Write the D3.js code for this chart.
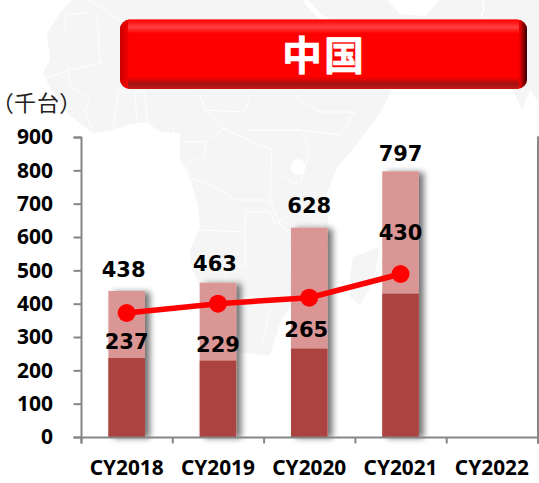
<!DOCTYPE html>
<html><head><meta charset="utf-8">
<script src="https://cdn.jsdelivr.net/npm/d3@7/dist/d3.min.js"></script>
<style>html,body{margin:0;padding:0;background:#fff;overflow:hidden}svg{display:block}</style>
</head><body><svg id="c" width="539" height="483"></svg>
<script>
const categories = ["CY2018","CY2019","CY2020","CY2021","CY2022"];
const totalValues = [438,463,628,797,null];
const lowerValues = [237,229,265,430,null];
const lineValues = [372,400,418,489,null];
const yTicks = [0,100,200,300,400,500,600,700,800,900];
const title = "中国";
const unitLabel = "（千台）";
// label nudges [dx, dy from bar edge], layout only
const totalNudge = [[-3,-14],[-3,-12],[0,-15],[0,-10]];
const lowerNudge = [[0,-9],[0,-9],[-3,-12],[0,-54]];

const svg = d3.select("#c");
const x = d3.scaleBand().domain(categories).range([81,537.5]).paddingInner(0.6).paddingOuter(0.3);
const y = d3.scaleLinear().domain([0,900]).range([437,137]);
const defs = svg.append("defs");

// backdrop map
const land = [
 [[73,0],[62,10],[47,33],[50,60],[43,73],[50,88],[67,113],[92,133],[113,130],[130,124],[147,122],[160,132],[180,133],[180,160],[190,178],[198,207],[200,228],[190,250],[190,262],[205,300],[222,340],[240,353],[270,355],[280,323],[295,300],[325,262],[329,235],[327,193],[337,168],[360,140],[380,113],[391,92],[395,60],[380,40],[420,70],[470,60],[513,90],[522,110],[530,90],[539,103],[539,0]],
 [[353,257],[380,247],[373,283],[360,305],[350,297],[350,275]]
];
const borders = [
 [[90,0],[122,22]],[[97,15],[100,60],[102,63],[70,70],[63,60]],[[65,33],[65,15],[90,12]],[[43,80],[68,70],[70,85],[90,100],[85,110],[93,133]],
 [[113,130],[118,92],[145,92],[147,122]],[[135,92],[137,122]],[[173,125],[175,142],[205,142],[205,155],[185,165],[190,175]],
 [[190,178],[222,190],[235,200],[270,200],[272,150],[222,128],[205,110],[200,95]],[[225,128],[205,142]],[[205,110],[245,112],[250,95]],
 [[250,130],[300,130],[310,150],[300,185],[285,178],[275,170]],[[300,130],[340,135],[355,112],[320,112],[300,100],[290,88]],
 [[200,230],[245,232],[245,212],[270,212],[275,225],[288,215]],[[245,232],[245,265],[225,270],[228,300]],[[190,262],[225,266]],
 [[228,300],[255,296],[270,310],[262,345]],[[270,200],[280,225],[292,235],[290,270],[300,283]],[[327,233],[300,205],[305,190]]
];
const line2 = d3.line();
svg.append("g").selectAll("path").data(land).join("path").attr("d",d=>line2(d)+"Z").attr("fill","#f5f5f5");
svg.append("g").selectAll("path").data(borders).join("path").attr("d",d=>line2(d)).attr("fill","none").attr("stroke","#fff").attr("stroke-width",1);
svg.append("ellipse").attr("cx",298).attr("cy",167).attr("rx",7).attr("ry",8).attr("fill","#fff");
svg.append("path").attr("d",line2([[305,0],[320,17],[328,20]])).attr("fill","none").attr("stroke","#fff").attr("stroke-width",5);
svg.append("path").attr("d",line2([[387,0],[400,14],[425,16],[440,0]])).attr("fill","#fff");
svg.append("path").attr("d",line2([[483,0],[484,10],[481,17]])).attr("fill","none").attr("stroke","#fff").attr("stroke-width",1.5);

// title plate
const grad=(id,x1,y1,x2,y2,stops)=>{const g=defs.append("linearGradient").attr("id",id).attr("x1",x1).attr("y1",y1).attr("x2",x2).attr("y2",y2);
 stops.forEach(s=>g.append("stop").attr("offset",s[0]).attr("stop-color",s[1]).attr("stop-opacity",s[2]));};
grad("gTop",0,0,0,1,[[0,"#ff0000",1],[0.55,"#ff4040",1],[1,"#ff0000",1]]);
grad("gBot",0,0,0,1,[[0,"#ff0000",1],[0.6,"#a01212",1],[1,"#c81818",1]]);
grad("gR",0,0,1,0,[[0,"#ff0000",0],[0.5,"#b00000",1],[1,"#3a0000",1]]);
grad("gL",0,0,1,0,[[0,"#c80000",1],[1,"#ff0000",1]]);
defs.append("clipPath").attr("id","plate").append("rect").attr("x",120).attr("y",19.5).attr("width",407).attr("height",69.5).attr("rx",10);
const p=svg.append("g").attr("clip-path","url(#plate)");
p.append("rect").attr("x",120).attr("y",19).attr("width",407).attr("height",70).attr("fill","#ff0000");
p.append("rect").attr("x",120).attr("y",19).attr("width",10).attr("height",70).attr("fill","url(#gL)");
p.append("rect").attr("x",517).attr("y",19).attr("width",10).attr("height",70).attr("fill","url(#gR)");
p.append("rect").attr("x",128).attr("y",19.5).attr("width",391).attr("height",14).attr("fill","url(#gTop)");
p.append("rect").attr("x",128).attr("y",77).attr("width",391).attr("height",12).attr("fill","url(#gBot)");
svg.append("text").attr("x",324).attr("y",69.5).attr("text-anchor","middle").attr("fill","#fff").attr("stroke","#fff").attr("stroke-width",0.6)
 .attr("font-family","'Noto Sans CJK JP'").attr("font-weight",700).attr("font-size",40).attr("letter-spacing",2).text(title);

svg.append("text").attr("x",2).attr("y",110.5).attr("font-family","'Noto Sans CJK JP'").attr("font-size",22).attr("letter-spacing",1).attr("fill","#222")
 .style("font-feature-settings","'palt'").text(unitLabel);

// bars
const sh=defs.append("filter").attr("id","sh").attr("x","-30%").attr("y","-10%").attr("width","170%").attr("height","120%");
sh.append("feGaussianBlur").attr("in","SourceAlpha").attr("stdDeviation",3).attr("result","b");
sh.append("feOffset").attr("in","b").attr("dx",5).attr("dy",1).attr("result","o");
sh.append("feComponentTransfer").attr("in","o").attr("result","a").append("feFuncA").attr("type","linear").attr("slope",0.55);
const mg=sh.append("feMerge");mg.append("feMergeNode").attr("in","a");mg.append("feMergeNode").attr("in","SourceGraphic");

const idx=categories.map((c,i)=>i).filter(i=>totalValues[i]!=null);
svg.append("g").selectAll("rect").data(idx).join("rect").attr("x",i=>x(categories[i])).attr("width",x.bandwidth())
 .attr("y",i=>y(totalValues[i])).attr("height",i=>y(0)-y(totalValues[i])).attr("fill","#d99694").attr("filter","url(#sh)");
svg.append("g").selectAll("rect").data(idx).join("rect").attr("x",i=>x(categories[i])).attr("width",x.bandwidth())
 .attr("y",i=>y(lowerValues[i])).attr("height",i=>y(0)-y(lowerValues[i])).attr("fill","#ab4340");

// axes
const axFont=g=>g.selectAll("text").attr("font-family","'Noto Sans'").attr("font-weight",700).attr("fill","#000");
const axLine=g=>g.selectAll("path,line").attr("stroke","#868686").attr("stroke-width",2);
const la=svg.append("g").attr("transform","translate(81,0)").call(d3.axisLeft(y).tickValues(yTicks).tickSize(7.5).tickPadding(20.5).tickSizeOuter(7.5));
la.call(axLine).call(axFont).selectAll("text").attr("font-size",21);
const xb=d3.scaleLinear().domain([0,categories.length]).range([81,537.5]);
const ba=svg.append("g").attr("transform","translate(0,437)").call(d3.axisBottom(xb).tickValues(d3.range(categories.length+1)).tickSize(6.5).tickSizeOuter(6.5).tickFormat(""));
ba.call(axLine);
svg.append("g").selectAll("text").data(categories).join("text").attr("x",c=>x(c)+x.bandwidth()/2).attr("y",475).attr("text-anchor","middle")
 .attr("font-family","'Noto Sans'").attr("font-weight",700).attr("font-size",20.8).attr("fill","#000").text(c=>c);
const ra=svg.append("g").attr("transform","translate(537.5,0)").call(d3.axisRight(y).tickValues([0,180,360,540,720,900]).tickSize(3).tickSizeOuter(3).tickFormat(""));
ra.call(axLine);

// line
const pts=idx;
svg.append("path").attr("d",d3.line().x(i=>x(categories[i])+x.bandwidth()/2).y(i=>y(lineValues[i]))(pts))
 .attr("fill","none").attr("stroke","#ff0000").attr("stroke-width",5.5);
svg.append("g").selectAll("circle").data(pts).join("circle").attr("cx",i=>x(categories[i])+x.bandwidth()/2).attr("cy",i=>y(lineValues[i])).attr("r",9).attr("fill","#ff0000");

// value labels
const lab=(vals,nudge)=>svg.append("g").selectAll("text").data(idx).join("text")
 .attr("x",i=>x(categories[i])+x.bandwidth()/2+nudge[i][0]).attr("y",i=>y(vals[i])+nudge[i][1]).attr("text-anchor","middle")
 .attr("font-family","'DejaVu Sans'").attr("font-weight",700).attr("font-size",21).attr("fill","#000").text(i=>vals[i]);
lab(totalValues,totalNudge);lab(lowerValues,lowerNudge);
</script></body></html>
